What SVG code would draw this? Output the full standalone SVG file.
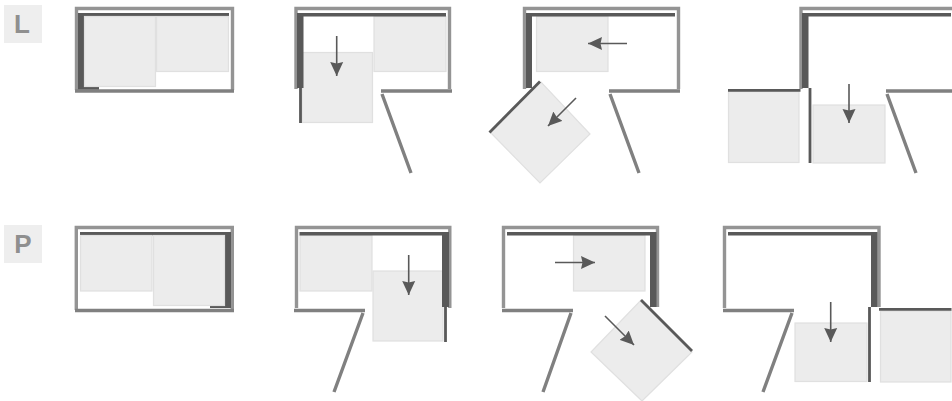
<svg xmlns="http://www.w3.org/2000/svg" width="952" height="401" viewBox="0 0 952 401">
<style>
.badge{fill:#eeeeee}
.lbl{font-family:"Liberation Sans",Arial,sans-serif;font-weight:700;font-size:26px;fill:#8f8f8f;text-anchor:middle}
.f{fill:none;stroke:#949494;stroke-width:3.400}
.b{fill:none;stroke:#808080;stroke-width:3.400}
.d{fill:#595959}
.t{fill:none;stroke:#595959;stroke-width:2.800}
.p{fill:#ececec;stroke:#e0e0e0;stroke-width:1.200}
.a{fill:none;stroke:#595959;stroke-width:1.600;marker-end:url(#h)}
</style>
<defs>
<marker id="h" markerUnits="userSpaceOnUse" markerWidth="15" markerHeight="14" refX="14" refY="7" orient="auto">
<path d="M0 .5L14 7L0 13.500L1.500 7Z" fill="#595959"/>
</marker>
</defs>
<rect width="952" height="401" fill="#fff"/>
<g id="label-l"><rect class="badge" x="4" y="5" width="38" height="38"/><text class="lbl" x="22" y="33">L</text></g>
<g id="label-p"><rect class="badge" x="4" y="225" width="38" height="38"/><text class="lbl" x="23" y="253">P</text></g>

<g id="l1">
<path class="f" d="M76.500 90V8.500H232.500V90"/>
<path class="b" d="M75 91H234"/>
<path class="d" d="M78 13H229V16.500H84.500V87H99V89.500H78Z"/>
<rect class="p" x="84.500" y="16.500" width="71" height="70"/>
<rect class="p" x="156.500" y="16.500" width="72" height="55"/>
</g>
<g id="l2">
<rect class="p" x="302" y="52.500" width="70.500" height="70"/>
<rect class="p" x="374" y="16.500" width="72" height="55"/>
<path class="f" d="M296 89V8.500H449.500V89"/>
<path class="b" d="M381 91H452M382 94L411 173"/>
<path class="d" d="M297 13H446V16.500H303.500V88H297Z"/>
<path class="t" d="M300.500 88V123"/>
</g>
<g id="l3">
<rect class="p" x="536.500" y="16.500" width="71.500" height="55"/>
<path class="p" d="M490 132L541 82L590 134L540 183Z"/>
<path class="f" d="M524.500 89V8.500H678.500V89"/>
<path class="b" d="M609 91H680M610 94L639 173"/>
<path class="d" d="M526 13H675V16.500H532V88H526Z"/>
<path class="t" d="M489.500 132.500L540 81.500"/>
</g>
<g id="l4">
<rect class="p" x="728.500" y="91.500" width="70.500" height="71"/>
<rect class="p" x="813" y="105" width="72" height="58"/>
<path class="f" d="M801 89V8.500H952"/>
<path class="b" d="M886 91H952M887 94L916 173"/>
<path class="d" d="M802 13H951V16.500H808.500V88H802Z"/>
<path class="t" d="M728 90.300H800.500M810 88V163"/>
</g>
<g id="p1">
<path class="f" d="M76.300 310V227.500H232.300V310"/>
<path class="b" d="M75 310.500H234"/>
<path class="d" d="M80 232H231V308H210V306H224.500V235.500H80Z"/>
<rect class="p" x="80.500" y="235.500" width="71.500" height="55.500"/>
<rect class="p" x="153.500" y="235.500" width="71" height="70"/>
</g>
<g id="p2">
<rect class="p" x="300" y="235.500" width="72" height="55.500"/>
<rect class="p" x="373" y="271" width="70" height="70"/>
<path class="f" d="M296.500 308V227.500H449.800V308"/>
<path class="b" d="M294 310.500H365M363 313L334 392"/>
<path class="d" d="M299.500 232H449V307H442V235.500H299.500Z"/>
<path class="t" d="M445.500 307V342"/>
</g>
<g id="p3">
<rect class="p" x="573.500" y="235.500" width="71.500" height="55.500"/>
<path class="p" d="M641 300L692 352L642 401L591 352Z"/>
<path class="f" d="M503.500 308V227.500H657.500V307"/>
<path class="b" d="M502 310.500H573M571 313L543 392"/>
<path class="d" d="M507 232H656.500V307H650V235.500H507Z"/>
<path class="t" d="M641 300L692 351"/>
</g>
<g id="p4">
<rect class="p" x="795" y="323" width="72" height="58.500"/>
<rect class="p" x="880.500" y="311" width="70.500" height="71"/>
<path class="f" d="M724.500 308V227.500H879V307"/>
<path class="b" d="M723 310.500H794M792 313L763 392"/>
<path class="d" d="M728 232H877.500V307H871V235.500H728Z"/>
<path class="t" d="M869.500 307V382M879 309.300H951.500"/>
</g>
<g id="connectors">
<path class="a" d="M336.700 36V76"/>
<path class="a" d="M627 43.500H588"/>
<path class="a" d="M576 98L548 126"/>
<path class="a" d="M849 84V123"/>
<path class="a" d="M408.700 255V295"/>
<path class="a" d="M555 262.500H595"/>
<path class="a" d="M605 316L634 345"/>
<path class="a" d="M830.700 302V342"/>
</g>
</svg>
